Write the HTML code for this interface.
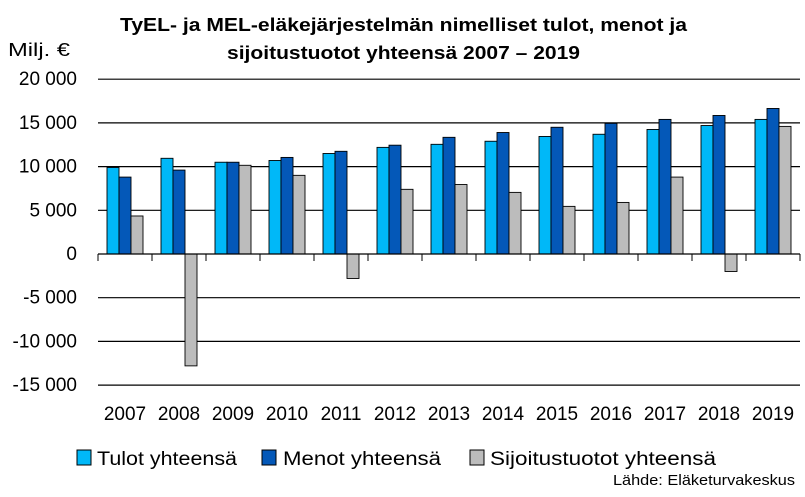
<!DOCTYPE html>
<html><head><meta charset="utf-8"><style>
body{margin:0;background:#fff;font-family:"Liberation Sans",sans-serif;}
svg text{font-family:"Liberation Sans",sans-serif;}
</style></head><body>
<svg id="c" width="805" height="492" viewBox="0 0 805 492" xmlns="http://www.w3.org/2000/svg">
<text x="120" y="31" font-size="18" font-weight="bold" textLength="567" lengthAdjust="spacingAndGlyphs">TyEL- ja MEL-eläkejärjestelmän nimelliset tulot, menot ja</text>
<text x="227" y="59" font-size="18" font-weight="bold" textLength="353" lengthAdjust="spacingAndGlyphs">sijoitustuotot yhteensä 2007 – 2019</text>
<text x="8" y="56" font-size="18" textLength="62" lengthAdjust="spacingAndGlyphs">Milj. €</text>
<g id="grid"></g><g id="bars"></g><g id="axes"></g>
<g>
<rect x="77" y="450" width="14" height="15" fill="#00b8f8" stroke="#000" stroke-width="1"/>
<text x="97" y="465" font-size="19" textLength="140" lengthAdjust="spacingAndGlyphs">Tulot yhteensä</text>
<rect x="262" y="450" width="14" height="15" fill="#0458b8" stroke="#000" stroke-width="1"/>
<text x="283" y="465" font-size="19" textLength="158" lengthAdjust="spacingAndGlyphs">Menot yhteensä</text>
<rect x="470" y="450" width="14" height="15" fill="#bcbcbc" stroke="#000" stroke-width="1"/>
<text x="490" y="465" font-size="19" textLength="226" lengthAdjust="spacingAndGlyphs">Sijoitustuotot yhteensä</text>
</g>
<text x="613" y="485" font-size="15" textLength="182" lengthAdjust="spacingAndGlyphs">Lähde: Eläketurvakeskus</text>
</svg>
<script>
const categories=["2007","2008","2009","2010","2011","2012","2013","2014","2015","2016","2017","2018","2019"];
const tulot=[9900,10950,10500,10700,11500,12200,12550,12900,13450,13700,14250,14700,15400];
const menot=[8800,9600,10500,11050,11750,12450,13350,13900,14500,14950,15400,15850,16650];
const sijoitustuotot=[4350,-12800,10150,9000,-2800,7400,7950,7050,5450,5900,8800,-2000,14600];
const yTicks=[20000,15000,10000,5000,0,-5000,-10000,-15000];
const yTickLabels=["20 000","15 000","10 000","5 000","0","-5 000","-10 000","-15 000"];
const NS="http://www.w3.org/2000/svg";
const x0=98,catW=54,y0=254,pxPer=43.7/5000;
const y=v=>y0-v*pxPer;
const xc=i=>x0+i*catW;
function mk(t,a,p){const e=document.createElementNS(NS,t);for(const k in a)e.setAttribute(k,a[k]);p.appendChild(e);return e;}
const grid=document.getElementById('grid'),bars=document.getElementById('bars'),axes=document.getElementById('axes');
yTicks.forEach((v,i)=>{
 if(v!==0){const l=mk('line',{x1:x0,x2:800,y1:y(v),y2:y(v),stroke:'#000','stroke-width':1.2},grid);
 
 }
 const t=mk('text',{x:77,y:y(v)+6,'text-anchor':'end','font-size':19},axes);
 t.textContent=yTickLabels[i];
 
 
});
const series=[[tulot,'#00b8f8','bar-tulot'],[menot,'#0458b8','bar-menot'],[sijoitustuotot,'#bcbcbc','bar-sijoitustuotot']];
categories.forEach((c,i)=>{
 series.forEach((s,j)=>{
  const v=s[0][i];const top=Math.min(y(v),y0),h=Math.abs(y(v)-y0);
  const r=mk('rect',{x:xc(i)+9+j*12,y:top,width:12,height:h,fill:s[1],stroke:'#000','stroke-width':0.9},bars);
  
  
 });
 const t=mk('text',{x:xc(i)+catW/2,y:420,'text-anchor':'middle','font-size':19},axes);
 t.textContent=c;
 
 
});
const ax=mk('line',{x1:x0,x2:800,y1:y0,y2:y0,stroke:'#000','stroke-width':1.2},axes);


for(let i=0;i<=categories.length;i++){
 const tk=mk('line',{x1:xc(i),x2:xc(i),y1:y0,y2:y0+7,stroke:'#000','stroke-width':1},axes);
 
 
}
</script>
</body></html>
